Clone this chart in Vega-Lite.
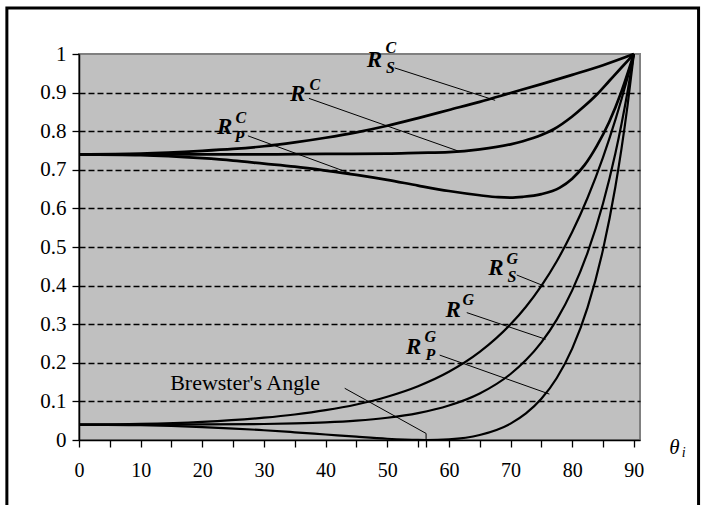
{
  "$schema": "https://vega.github.io/schema/vega-lite/v6.json",
  "width": 561,
  "height": 386,
  "autosize": {"type": "none"},
  "padding": {"left": 79, "top": 54, "right": 64, "bottom": 65},
  "background": "#ffffff",
  "config": {
    "view": {"fill": "#c0c0c0", "stroke": "#808080", "strokeWidth": 2},
    "font": "Liberation Serif"
  },
  "datasets": {
    "curves": [
      {"series": "RsC", "material": "copper", "angle": 0, "R": 0.740},
      {"series": "RsC", "material": "copper", "angle": 10, "R": 0.742},
      {"series": "RsC", "material": "copper", "angle": 20, "R": 0.749},
      {"series": "RsC", "material": "copper", "angle": 25, "R": 0.754},
      {"series": "RsC", "material": "copper", "angle": 30, "R": 0.761},
      {"series": "RsC", "material": "copper", "angle": 35, "R": 0.771},
      {"series": "RsC", "material": "copper", "angle": 40, "R": 0.783},
      {"series": "RsC", "material": "copper", "angle": 45, "R": 0.797},
      {"series": "RsC", "material": "copper", "angle": 50, "R": 0.814},
      {"series": "RsC", "material": "copper", "angle": 55, "R": 0.834},
      {"series": "RsC", "material": "copper", "angle": 60, "R": 0.855},
      {"series": "RsC", "material": "copper", "angle": 65, "R": 0.876},
      {"series": "RsC", "material": "copper", "angle": 70, "R": 0.899},
      {"series": "RsC", "material": "copper", "angle": 75, "R": 0.922},
      {"series": "RsC", "material": "copper", "angle": 80, "R": 0.946},
      {"series": "RsC", "material": "copper", "angle": 85, "R": 0.971},
      {"series": "RsC", "material": "copper", "angle": 90, "R": 1.0},
      {"series": "RC", "material": "copper", "angle": 0, "R": 0.740},
      {"series": "RC", "material": "copper", "angle": 10, "R": 0.740},
      {"series": "RC", "material": "copper", "angle": 20, "R": 0.740},
      {"series": "RC", "material": "copper", "angle": 30, "R": 0.740},
      {"series": "RC", "material": "copper", "angle": 40, "R": 0.741},
      {"series": "RC", "material": "copper", "angle": 50, "R": 0.742},
      {"series": "RC", "material": "copper", "angle": 55, "R": 0.744},
      {"series": "RC", "material": "copper", "angle": 60, "R": 0.746},
      {"series": "RC", "material": "copper", "angle": 65, "R": 0.753},
      {"series": "RC", "material": "copper", "angle": 70, "R": 0.766},
      {"series": "RC", "material": "copper", "angle": 72, "R": 0.774},
      {"series": "RC", "material": "copper", "angle": 75, "R": 0.790},
      {"series": "RC", "material": "copper", "angle": 77, "R": 0.805},
      {"series": "RC", "material": "copper", "angle": 80, "R": 0.838},
      {"series": "RC", "material": "copper", "angle": 82, "R": 0.865},
      {"series": "RC", "material": "copper", "angle": 84, "R": 0.895},
      {"series": "RC", "material": "copper", "angle": 86, "R": 0.930},
      {"series": "RC", "material": "copper", "angle": 88, "R": 0.965},
      {"series": "RC", "material": "copper", "angle": 90, "R": 1.0},
      {"series": "RpC", "material": "copper", "angle": 0, "R": 0.740},
      {"series": "RpC", "material": "copper", "angle": 10, "R": 0.738},
      {"series": "RpC", "material": "copper", "angle": 20, "R": 0.730},
      {"series": "RpC", "material": "copper", "angle": 25, "R": 0.724},
      {"series": "RpC", "material": "copper", "angle": 30, "R": 0.716},
      {"series": "RpC", "material": "copper", "angle": 35, "R": 0.708},
      {"series": "RpC", "material": "copper", "angle": 40, "R": 0.698},
      {"series": "RpC", "material": "copper", "angle": 45, "R": 0.687},
      {"series": "RpC", "material": "copper", "angle": 50, "R": 0.674},
      {"series": "RpC", "material": "copper", "angle": 55, "R": 0.659},
      {"series": "RpC", "material": "copper", "angle": 60, "R": 0.645},
      {"series": "RpC", "material": "copper", "angle": 65, "R": 0.634},
      {"series": "RpC", "material": "copper", "angle": 68, "R": 0.629},
      {"series": "RpC", "material": "copper", "angle": 70, "R": 0.628},
      {"series": "RpC", "material": "copper", "angle": 72, "R": 0.630},
      {"series": "RpC", "material": "copper", "angle": 75, "R": 0.637},
      {"series": "RpC", "material": "copper", "angle": 78, "R": 0.654},
      {"series": "RpC", "material": "copper", "angle": 80, "R": 0.677},
      {"series": "RpC", "material": "copper", "angle": 82, "R": 0.712},
      {"series": "RpC", "material": "copper", "angle": 84, "R": 0.762},
      {"series": "RpC", "material": "copper", "angle": 86, "R": 0.824},
      {"series": "RpC", "material": "copper", "angle": 88, "R": 0.903},
      {"series": "RpC", "material": "copper", "angle": 90, "R": 1.0},
      {"series": "RsG", "material": "glass", "angle": 0, "R": 0.04},
      {"series": "RsG", "material": "glass", "angle": 10, "R": 0.0417},
      {"series": "RsG", "material": "glass", "angle": 20, "R": 0.0471},
      {"series": "RsG", "material": "glass", "angle": 30, "R": 0.0578},
      {"series": "RsG", "material": "glass", "angle": 35, "R": 0.0661},
      {"series": "RsG", "material": "glass", "angle": 40, "R": 0.0772},
      {"series": "RsG", "material": "glass", "angle": 45, "R": 0.0920},
      {"series": "RsG", "material": "glass", "angle": 50, "R": 0.1121},
      {"series": "RsG", "material": "glass", "angle": 55, "R": 0.1393},
      {"series": "RsG", "material": "glass", "angle": 60, "R": 0.1766},
      {"series": "RsG", "material": "glass", "angle": 65, "R": 0.2281},
      {"series": "RsG", "material": "glass", "angle": 70, "R": 0.2996},
      {"series": "RsG", "material": "glass", "angle": 72.5, "R": 0.3453},
      {"series": "RsG", "material": "glass", "angle": 75, "R": 0.3994},
      {"series": "RsG", "material": "glass", "angle": 77.5, "R": 0.4632},
      {"series": "RsG", "material": "glass", "angle": 80, "R": 0.5386},
      {"series": "RsG", "material": "glass", "angle": 82.5, "R": 0.6276},
      {"series": "RsG", "material": "glass", "angle": 85, "R": 0.7323},
      {"series": "RsG", "material": "glass", "angle": 87, "R": 0.8293},
      {"series": "RsG", "material": "glass", "angle": 88, "R": 0.8826},
      {"series": "RsG", "material": "glass", "angle": 89, "R": 0.9395},
      {"series": "RsG", "material": "glass", "angle": 90, "R": 1.0},
      {"series": "RG", "material": "glass", "angle": 0, "R": 0.04},
      {"series": "RG", "material": "glass", "angle": 10, "R": 0.0400},
      {"series": "RG", "material": "glass", "angle": 20, "R": 0.0403},
      {"series": "RG", "material": "glass", "angle": 30, "R": 0.0415},
      {"series": "RG", "material": "glass", "angle": 35, "R": 0.0431},
      {"series": "RG", "material": "glass", "angle": 40, "R": 0.0457},
      {"series": "RG", "material": "glass", "angle": 45, "R": 0.0502},
      {"series": "RG", "material": "glass", "angle": 50, "R": 0.0577},
      {"series": "RG", "material": "glass", "angle": 55, "R": 0.0697},
      {"series": "RG", "material": "glass", "angle": 60, "R": 0.0892},
      {"series": "RG", "material": "glass", "angle": 65, "R": 0.1205},
      {"series": "RG", "material": "glass", "angle": 70, "R": 0.1710},
      {"series": "RG", "material": "glass", "angle": 72.5, "R": 0.2071},
      {"series": "RG", "material": "glass", "angle": 75, "R": 0.2531},
      {"series": "RG", "material": "glass", "angle": 77.5, "R": 0.3120},
      {"series": "RG", "material": "glass", "angle": 80, "R": 0.3877},
      {"series": "RG", "material": "glass", "angle": 82.5, "R": 0.4856},
      {"series": "RG", "material": "glass", "angle": 85, "R": 0.6128},
      {"series": "RG", "material": "glass", "angle": 87, "R": 0.7424},
      {"series": "RG", "material": "glass", "angle": 88, "R": 0.8187},
      {"series": "RG", "material": "glass", "angle": 89, "R": 0.9042},
      {"series": "RG", "material": "glass", "angle": 90, "R": 1.0},
      {"series": "RpG", "material": "glass", "angle": 0, "R": 0.04},
      {"series": "RpG", "material": "glass", "angle": 10, "R": 0.0384},
      {"series": "RpG", "material": "glass", "angle": 20, "R": 0.0335},
      {"series": "RpG", "material": "glass", "angle": 30, "R": 0.0253},
      {"series": "RpG", "material": "glass", "angle": 35, "R": 0.0200},
      {"series": "RpG", "material": "glass", "angle": 40, "R": 0.0143},
      {"series": "RpG", "material": "glass", "angle": 45, "R": 0.0085},
      {"series": "RpG", "material": "glass", "angle": 50, "R": 0.0033},
      {"series": "RpG", "material": "glass", "angle": 55, "R": 0.0002},
      {"series": "RpG", "material": "glass", "angle": 56.3, "R": 0.0},
      {"series": "RpG", "material": "glass", "angle": 60, "R": 0.0018},
      {"series": "RpG", "material": "glass", "angle": 65, "R": 0.0130},
      {"series": "RpG", "material": "glass", "angle": 70, "R": 0.0425},
      {"series": "RpG", "material": "glass", "angle": 72.5, "R": 0.0688},
      {"series": "RpG", "material": "glass", "angle": 75, "R": 0.1068},
      {"series": "RpG", "material": "glass", "angle": 77.5, "R": 0.1607},
      {"series": "RpG", "material": "glass", "angle": 80, "R": 0.2368},
      {"series": "RpG", "material": "glass", "angle": 82.5, "R": 0.3436},
      {"series": "RpG", "material": "glass", "angle": 85, "R": 0.4932},
      {"series": "RpG", "material": "glass", "angle": 87, "R": 0.6555},
      {"series": "RpG", "material": "glass", "angle": 88, "R": 0.7548},
      {"series": "RpG", "material": "glass", "angle": 89, "R": 0.8689},
      {"series": "RpG", "material": "glass", "angle": 90, "R": 1.0}
    ],
    "leaders": [
      {"label": "RsC", "order": 1, "angle": 51.2, "R": 0.964},
      {"label": "RsC", "order": 2, "angle": 67.5, "R": 0.880},
      {"label": "RC", "order": 1, "angle": 37.3, "R": 0.885},
      {"label": "RC", "order": 2, "angle": 61.8, "R": 0.747},
      {"label": "RpC", "order": 1, "angle": 27.4, "R": 0.788},
      {"label": "RpC", "order": 2, "angle": 44.3, "R": 0.689},
      {"label": "RsG", "order": 1, "angle": 71.0, "R": 0.4275},
      {"label": "RsG", "order": 2, "angle": 75.45, "R": 0.399},
      {"label": "RG", "order": 1, "angle": 62.9, "R": 0.330},
      {"label": "RG", "order": 2, "angle": 75.7, "R": 0.261},
      {"label": "RpG", "order": 1, "angle": 58.5, "R": 0.220},
      {"label": "RpG", "order": 2, "angle": 76.3, "R": 0.119},
      {"label": "Brewster", "order": 1, "angle": 43.1, "R": 0.134},
      {"label": "Brewster", "order": 2, "angle": 56.3, "R": 0.017},
      {"label": "Brewster", "order": 3, "angle": 56.3, "R": 0.0}
    ],
    "labels": [
      {"kind": "main", "text": "R", "angle": 47.92, "R": 0.9857},
      {"kind": "script", "text": "C", "angle": 50.59, "R": 1.0168},
      {"kind": "script", "text": "S", "angle": 50.51, "R": 0.963},
      {"kind": "main", "text": "R", "angle": 35.48, "R": 0.8972},
      {"kind": "script", "text": "C", "angle": 38.27, "R": 0.9197},
      {"kind": "main", "text": "R", "angle": 23.63, "R": 0.8096},
      {"kind": "script", "text": "C", "angle": 26.27, "R": 0.8340},
      {"kind": "script", "text": "P", "angle": 26.03, "R": 0.7840},
      {"kind": "main", "text": "R", "angle": 67.62, "R": 0.4448},
      {"kind": "script", "text": "G", "angle": 70.29, "R": 0.4700},
      {"kind": "script", "text": "S", "angle": 70.21, "R": 0.4215},
      {"kind": "main", "text": "R", "angle": 60.69, "R": 0.3373},
      {"kind": "script", "text": "G", "angle": 63.16, "R": 0.3627},
      {"kind": "main", "text": "R", "angle": 54.29, "R": 0.2409},
      {"kind": "script", "text": "G", "angle": 57.0, "R": 0.2660},
      {"kind": "script", "text": "P", "angle": 57.0, "R": 0.2200}
    ],
    "notes": [
      {"kind": "plain", "text": "Brewster's Angle", "angle": 26.95, "R": 0.1469},
      {"kind": "theta", "text": "θ", "angle": 96.6, "R": -0.022},
      {"kind": "sub", "text": "i", "angle": 98.1, "R": -0.0337}
    ],
    "frame": [
      {"angle": -11.7, "angle2": 100.5, "R": 1.119, "R2": -0.2}
    ]
  },
  "encoding": {
    "x": {
      "field": "angle", "type": "quantitative",
      "scale": {"domain": [0, 91], "nice": false, "zero": false},
      "axis": {
        "title": null, "grid": false,
        "values": [0, 5, 10, 15, 20, 25, 30, 35, 40, 45, 50, 55, 56.3, 60, 65, 70, 75, 80, 85, 90],
        "labelExpr": "datum.value % 10 == 0 ? format(datum.value, 'd') : ''",
        "labelOverlap": false, "labelBound": false, "labelFlush": false,
        "tickSize": 7, "tickWidth": 1.3, "tickColor": "black",
        "domainColor": "black", "domainWidth": 1.5,
        "labelFont": "Liberation Serif", "labelFontSize": 20, "labelColor": "black", "labelPadding": 13
      }
    },
    "y": {
      "field": "R", "type": "quantitative",
      "scale": {"domain": [0, 1], "nice": false, "zero": false},
      "axis": {
        "title": null,
        "values": [0, 0.1, 0.2, 0.3, 0.4, 0.5, 0.6, 0.7, 0.8, 0.9, 1],
        "format": "~g",
        "grid": true, "gridColor": "black", "gridDash": [6, 3], "gridWidth": 1.4,
        "gridOpacity": {"condition": {"test": "datum.value < 0.05 || datum.value > 0.95", "value": 0}, "value": 1},
        "labelOverlap": false, "labelBound": false, "labelFlush": false,
        "tickSize": 7, "tickWidth": 1.3, "tickColor": "black",
        "domainColor": "black", "domainWidth": 1.5,
        "labelFont": "Liberation Serif", "labelFontSize": 21, "labelColor": "black", "labelPadding": 6
      }
    }
  },
  "layer": [
    {
      "data": {"name": "curves"},
      "mark": {"type": "line", "interpolate": "monotone", "color": "black", "clip": false},
      "encoding": {
        "detail": {"field": "series", "type": "nominal"},
        "strokeWidth": {"field": "material", "type": "nominal", "scale": {"domain": ["copper", "glass"], "range": [2.7, 2.2]}, "legend": null}
      }
    },
    {
      "data": {"name": "leaders"},
      "mark": {"type": "line", "color": "black", "strokeWidth": 1, "clip": false},
      "encoding": {
        "detail": {"field": "label", "type": "nominal"},
        "order": {"field": "order", "type": "quantitative"}
      }
    },
    {
      "data": {"name": "labels"},
      "transform": [{"filter": "datum.kind == 'main'"}],
      "mark": {"type": "text", "font": "Liberation Serif", "fontSize": 23, "fontWeight": "bold", "fontStyle": "italic", "color": "black", "align": "center", "baseline": "middle", "clip": false},
      "encoding": {"text": {"field": "text"}}
    },
    {
      "data": {"name": "labels"},
      "transform": [{"filter": "datum.kind == 'script'"}],
      "mark": {"type": "text", "font": "Liberation Serif", "fontSize": 16, "fontWeight": "bold", "fontStyle": "italic", "color": "black", "align": "center", "baseline": "middle", "clip": false},
      "encoding": {"text": {"field": "text"}}
    },
    {
      "data": {"name": "notes"},
      "transform": [{"filter": "datum.kind == 'plain'"}],
      "mark": {"type": "text", "font": "Liberation Serif", "fontSize": 22, "color": "black", "align": "center", "baseline": "middle", "clip": false},
      "encoding": {"text": {"field": "text"}}
    },
    {
      "data": {"name": "notes"},
      "transform": [{"filter": "datum.kind == 'theta'"}],
      "mark": {"type": "text", "font": "Liberation Serif", "fontSize": 21, "fontStyle": "italic", "color": "black", "align": "center", "baseline": "middle", "clip": false},
      "encoding": {"text": {"field": "text"}}
    },
    {
      "data": {"name": "notes"},
      "transform": [{"filter": "datum.kind == 'sub'"}],
      "mark": {"type": "text", "font": "Liberation Serif", "fontSize": 14, "fontStyle": "italic", "color": "black", "align": "center", "baseline": "middle", "clip": false},
      "encoding": {"text": {"field": "text"}}
    },
    {
      "data": {"name": "frame"},
      "mark": {"type": "rect", "fill": "#ffffff", "fillOpacity": 0, "stroke": "black", "strokeWidth": 3, "clip": false},
      "encoding": {
        "x2": {"field": "angle2"},
        "y2": {"field": "R2"}
      }
    }
  ]
}
